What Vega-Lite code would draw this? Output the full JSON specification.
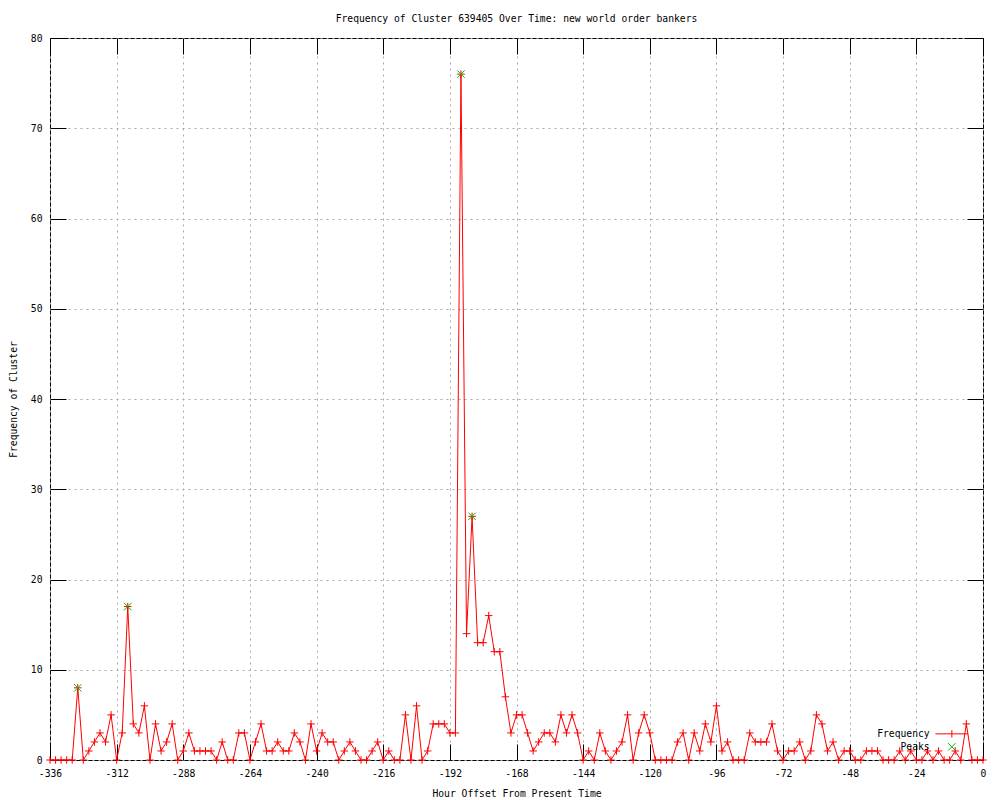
{
  "$schema": "https://vega.github.io/schema/vega-lite/v6.json",
  "width": 933,
  "height": 722,
  "autosize": "none",
  "padding": {"left": 50, "top": 38, "right": 17, "bottom": 40},
  "background": "white",
  "config": {
    "font": "DejaVu Sans Mono",
    "view": {"stroke": "black", "strokeWidth": 1},
    "axis": {
      "labelFont": "DejaVu Sans Mono",
      "labelFontSize": 9.7,
      "labelColor": "black",
      "titleFont": "DejaVu Sans Mono",
      "titleFontSize": 9.7,
      "titleFontWeight": "normal",
      "titleColor": "black",
      "domain": false,
      "tickColor": "black",
      "tickWidth": 1,
      "tickSize": -16,
      "gridColor": "#a8a8a8",
      "gridDash": [2, 4],
      "gridWidth": 1,
      "gridOpacity": 1,
      "labelFlush": false,
      "labelOverlap": false
    },
    "legend": {
      "labelFont": "DejaVu Sans Mono",
      "labelFontSize": 9.7,
      "labelColor": "black"
    }
  },
  "title": {
    "text": "Frequency of Cluster 639405 Over Time: new world order bankers",
    "font": "DejaVu Sans Mono",
    "fontSize": 9.7,
    "fontWeight": "normal",
    "color": "black",
    "anchor": "middle",
    "frame": "group",
    "offset": 9
  },
  "datasets": {
    "freq": [
      {"hour": -336, "count": 0}, {"hour": -334, "count": 0}, {"hour": -332, "count": 0}, {"hour": -330, "count": 0},
      {"hour": -328, "count": 0}, {"hour": -326, "count": 8}, {"hour": -324, "count": 0}, {"hour": -322, "count": 1},
      {"hour": -320, "count": 2}, {"hour": -318, "count": 3}, {"hour": -316, "count": 2}, {"hour": -314, "count": 5},
      {"hour": -312, "count": 0}, {"hour": -310, "count": 3}, {"hour": -308, "count": 17}, {"hour": -306, "count": 4},
      {"hour": -304, "count": 3}, {"hour": -302, "count": 6}, {"hour": -300, "count": 0}, {"hour": -298, "count": 4},
      {"hour": -296, "count": 1}, {"hour": -294, "count": 2}, {"hour": -292, "count": 4}, {"hour": -290, "count": 0},
      {"hour": -288, "count": 1}, {"hour": -286, "count": 3}, {"hour": -284, "count": 1}, {"hour": -282, "count": 1},
      {"hour": -280, "count": 1}, {"hour": -278, "count": 1}, {"hour": -276, "count": 0}, {"hour": -274, "count": 2},
      {"hour": -272, "count": 0}, {"hour": -270, "count": 0}, {"hour": -268, "count": 3}, {"hour": -266, "count": 3},
      {"hour": -264, "count": 0}, {"hour": -262, "count": 2}, {"hour": -260, "count": 4}, {"hour": -258, "count": 1},
      {"hour": -256, "count": 1}, {"hour": -254, "count": 2}, {"hour": -252, "count": 1}, {"hour": -250, "count": 1},
      {"hour": -248, "count": 3}, {"hour": -246, "count": 2}, {"hour": -244, "count": 0}, {"hour": -242, "count": 4},
      {"hour": -240, "count": 1}, {"hour": -238, "count": 3}, {"hour": -236, "count": 2}, {"hour": -234, "count": 2},
      {"hour": -232, "count": 0}, {"hour": -230, "count": 1}, {"hour": -228, "count": 2}, {"hour": -226, "count": 1},
      {"hour": -224, "count": 0}, {"hour": -222, "count": 0}, {"hour": -220, "count": 1}, {"hour": -218, "count": 2},
      {"hour": -216, "count": 0}, {"hour": -214, "count": 1}, {"hour": -212, "count": 0}, {"hour": -210, "count": 0},
      {"hour": -208, "count": 5}, {"hour": -206, "count": 0}, {"hour": -204, "count": 6}, {"hour": -202, "count": 0},
      {"hour": -200, "count": 1}, {"hour": -198, "count": 4}, {"hour": -196, "count": 4}, {"hour": -194, "count": 4},
      {"hour": -192, "count": 3}, {"hour": -190, "count": 3}, {"hour": -188, "count": 76}, {"hour": -186, "count": 14},
      {"hour": -184, "count": 27}, {"hour": -182, "count": 13}, {"hour": -180, "count": 13}, {"hour": -178, "count": 16},
      {"hour": -176, "count": 12}, {"hour": -174, "count": 12}, {"hour": -172, "count": 7}, {"hour": -170, "count": 3},
      {"hour": -168, "count": 5}, {"hour": -166, "count": 5}, {"hour": -164, "count": 3}, {"hour": -162, "count": 1},
      {"hour": -160, "count": 2}, {"hour": -158, "count": 3}, {"hour": -156, "count": 3}, {"hour": -154, "count": 2},
      {"hour": -152, "count": 5}, {"hour": -150, "count": 3}, {"hour": -148, "count": 5}, {"hour": -146, "count": 3},
      {"hour": -144, "count": 0}, {"hour": -142, "count": 1}, {"hour": -140, "count": 0}, {"hour": -138, "count": 3},
      {"hour": -136, "count": 1}, {"hour": -134, "count": 0}, {"hour": -132, "count": 1}, {"hour": -130, "count": 2},
      {"hour": -128, "count": 5}, {"hour": -126, "count": 0}, {"hour": -124, "count": 3}, {"hour": -122, "count": 5},
      {"hour": -120, "count": 3}, {"hour": -118, "count": 0}, {"hour": -116, "count": 0}, {"hour": -114, "count": 0},
      {"hour": -112, "count": 0}, {"hour": -110, "count": 2}, {"hour": -108, "count": 3}, {"hour": -106, "count": 0},
      {"hour": -104, "count": 3}, {"hour": -102, "count": 1}, {"hour": -100, "count": 4}, {"hour": -98, "count": 2},
      {"hour": -96, "count": 6}, {"hour": -94, "count": 1}, {"hour": -92, "count": 2}, {"hour": -90, "count": 0},
      {"hour": -88, "count": 0}, {"hour": -86, "count": 0}, {"hour": -84, "count": 3}, {"hour": -82, "count": 2},
      {"hour": -80, "count": 2}, {"hour": -78, "count": 2}, {"hour": -76, "count": 4}, {"hour": -74, "count": 1},
      {"hour": -72, "count": 0}, {"hour": -70, "count": 1}, {"hour": -68, "count": 1}, {"hour": -66, "count": 2},
      {"hour": -64, "count": 0}, {"hour": -62, "count": 1}, {"hour": -60, "count": 5}, {"hour": -58, "count": 4},
      {"hour": -56, "count": 1}, {"hour": -54, "count": 2}, {"hour": -52, "count": 0}, {"hour": -50, "count": 1},
      {"hour": -48, "count": 1}, {"hour": -46, "count": 0}, {"hour": -44, "count": 0}, {"hour": -42, "count": 1},
      {"hour": -40, "count": 1}, {"hour": -38, "count": 1}, {"hour": -36, "count": 0}, {"hour": -34, "count": 0},
      {"hour": -32, "count": 0}, {"hour": -30, "count": 1}, {"hour": -28, "count": 0}, {"hour": -26, "count": 1},
      {"hour": -24, "count": 0}, {"hour": -22, "count": 0}, {"hour": -20, "count": 1}, {"hour": -18, "count": 0},
      {"hour": -16, "count": 1}, {"hour": -14, "count": 0}, {"hour": -12, "count": 0}, {"hour": -10, "count": 1},
      {"hour": -8, "count": 0}, {"hour": -6, "count": 4}, {"hour": -4, "count": 0}, {"hour": -2, "count": 0},
      {"hour": 0, "count": 0}
    ],
    "peaks": [
      {"hour": -326, "count": 8},
      {"hour": -308, "count": 17},
      {"hour": -188, "count": 76},
      {"hour": -184, "count": 27}
    ]
  },
  "resolve": {"axis": {"x": "independent", "y": "independent"}},
  "layer": [
    {
      "data": {"name": "freq"},
      "mark": {"type": "line", "strokeWidth": 1, "interpolate": "linear"},
      "encoding": {
        "x": {
          "field": "hour", "type": "quantitative",
          "scale": {"domain": [-336, 0], "nice": false, "zero": false},
          "axis": {
            "orient": "bottom",
            "values": [-336, -312, -288, -264, -240, -216, -192, -168, -144, -120, -96, -72, -48, -24, 0],
            "labelExpr": "datum.value + ''",
            "grid": true,
            "labelPadding": 24,
            "title": "Hour Offset From Present Time",
            "titlePadding": 11
          }
        },
        "y": {
          "field": "count", "type": "quantitative",
          "scale": {"domain": [0, 80], "nice": false},
          "axis": {
            "orient": "left",
            "values": [0, 10, 20, 30, 40, 50, 60, 70, 80],
            "grid": true,
            "labelPadding": 24,
            "title": "Frequency of Cluster",
            "titlePadding": 12
          }
        },
        "color": {
          "datum": "Frequency",
          "type": "nominal",
          "scale": {"domain": ["Frequency", "Peaks"], "range": ["#ff0000", "#00c000"]},
          "legend": {
            "title": null,
            "orient": "bottom-right",
            "offset": 7,
            "padding": 0,
            "labelAlign": "right",
            "labelOffset": -27,
            "rowPadding": 1,
            "symbolSize": 56,
            "encode": {
              "symbols": {
                "update": {
                  "shape": {"signal": "datum.value === 'Frequency' ? 'M-4.4,0L4.4,0M0,-1L0,1M5.75,0' : 'M-1,-1L1,1M-1,1L1,-1'"},
                  "stroke": {"signal": "datum.value === 'Frequency' ? '#ff0000' : '#00c000'"},
                  "fill": {"value": "transparent"},
                  "strokeWidth": {"value": 1},
                  "size": {"value": 56},
                  "opacity": {"value": 1}
                }
              }
            }
          }
        }
      }
    },
    {
      "data": {"name": "freq"},
      "mark": {"type": "point", "shape": "M-1,0L1,0M0,-1L0,1", "size": 56, "filled": false, "strokeWidth": 1, "opacity": 1},
      "encoding": {
        "x": {
          "field": "hour", "type": "quantitative",
          "axis": {
            "orient": "top",
            "values": [-336, -312, -288, -264, -240, -216, -192, -168, -144, -120, -96, -72, -48, -24, 0],
            "labels": false, "grid": false, "title": null
          }
        },
        "y": {
          "field": "count", "type": "quantitative",
          "axis": {
            "orient": "right",
            "values": [0, 10, 20, 30, 40, 50, 60, 70, 80],
            "labels": false, "grid": false, "title": null
          }
        },
        "color": {"datum": "Frequency", "type": "nominal"}
      }
    },
    {
      "data": {"name": "peaks"},
      "mark": {"type": "point", "shape": "M-1,-1L1,1M-1,1L1,-1", "size": 56, "filled": false, "strokeWidth": 1, "opacity": 1},
      "encoding": {
        "x": {"field": "hour", "type": "quantitative", "axis": null},
        "y": {"field": "count", "type": "quantitative", "axis": null},
        "color": {"datum": "Peaks", "type": "nominal"}
      }
    }
  ]
}
